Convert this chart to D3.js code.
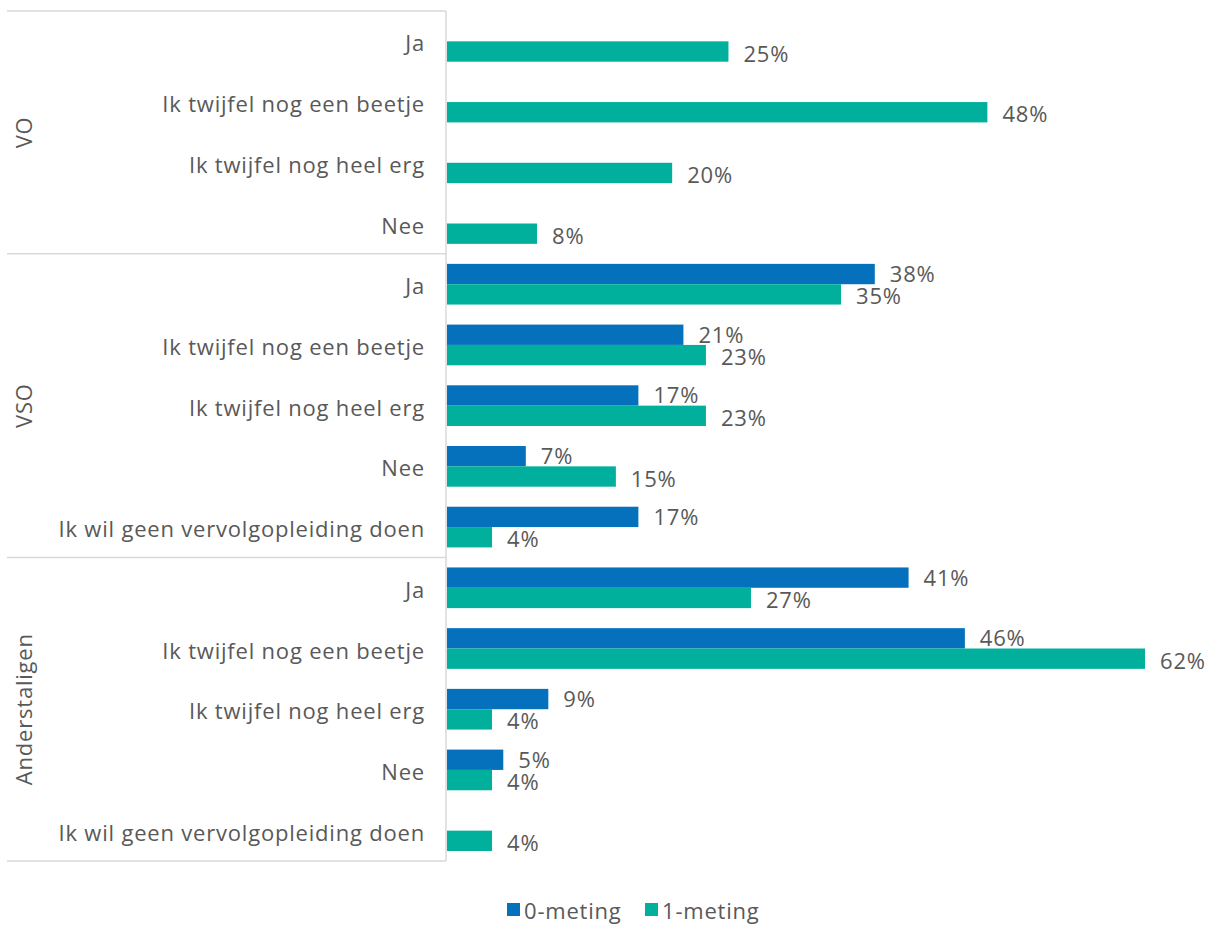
<!DOCTYPE html>
<html>
<head>
<meta charset="utf-8">
<script src="https://cdnjs.cloudflare.com/ajax/libs/d3/7.8.5/d3.min.js"></script>
<style>
  body { margin: 0; background: #fff; }
  text { font-family: "Open Sans", "Noto Sans", sans-serif; fill: #595959; font-size: 22px; letter-spacing: 0.8px; }
</style>
</head>
<body>
<script>
// data
var groups = ["VO", "VSO", "Anderstaligen"];
var voCats = ["Ja", "Ik twijfel nog een beetje", "Ik twijfel nog heel erg", "Nee"];
var vsoCats = ["Ja", "Ik twijfel nog een beetje", "Ik twijfel nog heel erg", "Nee", "Ik wil geen vervolgopleiding doen"];
var andCats = ["Ja", "Ik twijfel nog een beetje", "Ik twijfel nog heel erg", "Nee", "Ik wil geen vervolgopleiding doen"];
var series = ["0-meting", "1-meting"];
var colors = ["#0571BC", "#00AF9C"];
// null = no bar
var meting0 = [null, null, null, null, 38, 21, 17, 7, 17, 41, 46, 9, 5, null];
var meting1 = [25, 48, 20, 8, 35, 23, 23, 15, 4, 27, 62, 4, 4, 4];

// flatten into rows
var rows = [];
[voCats, vsoCats, andCats].forEach(function(cats, gi) {
  cats.forEach(function(c) {
    rows.push({id: rows.length, group: groups[gi], cat: c});
  });
});
rows.forEach(function(r, i) { r.v0 = meting0[i]; r.v1 = meting1[i]; });

var width = 1209, height = 925;
var plot = {left: 446, top: 11, bottom: 861};

var svg = d3.select("body").append("svg")
    .attr("width", width)
    .attr("height", height);

// scales
var x = d3.scaleLinear().domain([0, 62]).range([plot.left + 1, 1145]);
var y = d3.scaleBand().domain(rows.map(function(d) { return d.id; }))
    .range([plot.top, plot.bottom]).padding(0);
var barH = y.bandwidth() * 0.335;

// group separators on the left
var bounds = [0];
[voCats, vsoCats, andCats].forEach(function(c) { bounds.push(bounds[bounds.length - 1] + c.length); });
var yEdge = function(i) { return i < rows.length ? y(i) : y(rows.length - 1) + y.bandwidth(); };

svg.selectAll(".sep").data(bounds).enter().append("line")
    .attr("x1", 7).attr("x2", plot.left)
    .attr("y1", function(d) { return yEdge(d); })
    .attr("y2", function(d) { return yEdge(d); })
    .attr("stroke", "#d9d9d9").attr("stroke-width", 1.5);

// vertical axis line
svg.append("line")
    .attr("x1", plot.left).attr("x2", plot.left)
    .attr("y1", plot.top).attr("y2", plot.bottom)
    .attr("stroke", "#d9d9d9").attr("stroke-width", 1.5);

// group labels, rotated
svg.selectAll(".grp").data(groups).enter().append("text")
    .attr("transform", function(d, i) {
      var cy = (yEdge(bounds[i]) + yEdge(bounds[i + 1])) / 2;
      return "translate(32," + cy + ") rotate(-90)";
    })
    .attr("text-anchor", "middle")
    .text(function(d) { return d; });

// category labels
svg.selectAll(".cat").data(rows).enter().append("text")
    .attr("x", 425)
    .attr("y", function(d) { return y(d.id) + y.bandwidth() / 2 + 1; })
    .attr("text-anchor", "end")
    .attr("dominant-baseline", "central")
    .text(function(d) { return d.cat; });

// bars + value labels for both series
["v0", "v1"].forEach(function(key, si) {
  var data = rows.filter(function(d) { return d[key] != null; });
  var yPos = function(d) { return y(d.id) + y.bandwidth() / 2 - (si === 0 ? barH : 0); };

  svg.selectAll(".bar" + si).data(data).enter().append("rect")
      .attr("x", x(0))
      .attr("y", yPos)
      .attr("width", function(d) { return x(d[key]) - x(0); })
      .attr("height", barH)
      .attr("fill", colors[si]);

  svg.selectAll(".lbl" + si).data(data).enter().append("text")
      .attr("x", function(d) { return x(d[key]) + 15; })
      .attr("y", function(d) { return yPos(d) + barH / 2 + (si === 0 ? -1 : 1); })
      .attr("dominant-baseline", "central")
      .text(function(d) { return d[key] + "%"; });
});

// legend
var legend = svg.append("g").attr("transform", "translate(507,903)");
var lg = legend.selectAll("g").data(series).enter().append("g")
    .attr("transform", function(d, i) { return "translate(" + (i * 138) + ",0)"; });
lg.append("rect").attr("width", 13).attr("height", 13)
    .attr("fill", function(d, i) { return colors[i]; });
lg.append("text").attr("x", 17).attr("y", 7)
    .attr("dominant-baseline", "central")
    .text(function(d) { return d; });
</script>
</body>
</html>
